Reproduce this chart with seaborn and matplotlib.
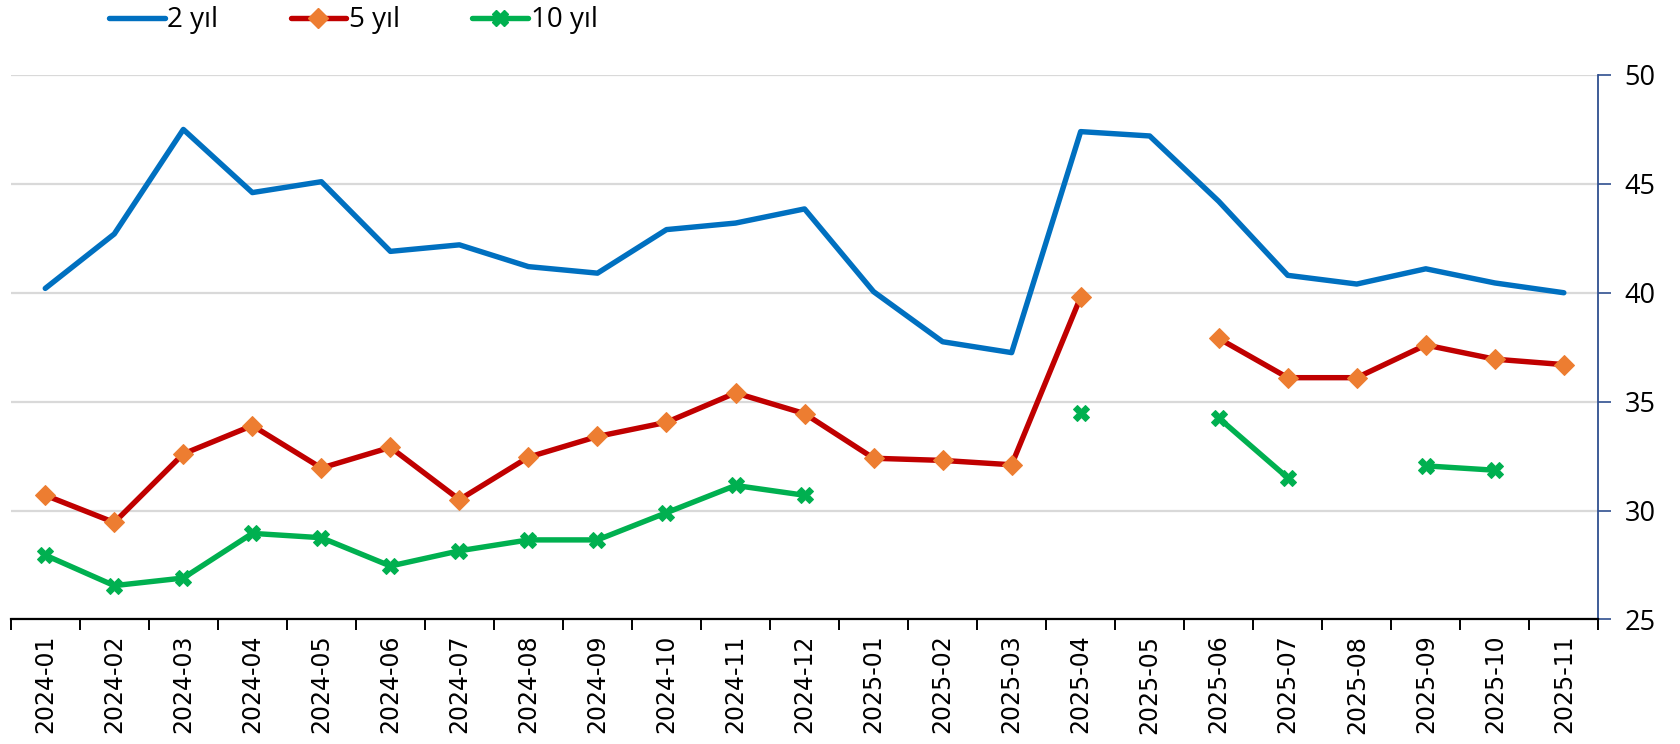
import numpy as np
import pandas as pd
import matplotlib
matplotlib.use("Agg")
import matplotlib.pyplot as plt
import seaborn as sns

months = ["2024-01", "2024-02", "2024-03", "2024-04", "2024-05", "2024-06",
          "2024-07", "2024-08", "2024-09", "2024-10", "2024-11", "2024-12",
          "2025-01", "2025-02", "2025-03", "2025-04", "2025-05", "2025-06",
          "2025-07", "2025-08", "2025-09", "2025-10", "2025-11"]

y2 = [40.2, 42.7, 47.5, 44.6, 45.1, 41.9, 42.2, 41.2, 40.9, 42.9, 43.2, 43.85,
      40.05, 37.75, 37.25, 47.4, 47.2, 44.2, 40.8, 40.4, 41.1, 40.45, 40.0]
y5 = [30.7, 29.45, 32.6, 33.9, 31.95, 32.9, 30.5, 32.45, 33.4, 34.05, 35.4, 34.45,
      32.4, 32.3, 32.1, 39.8, np.nan, 37.9, 36.1, 36.1, 37.6, 36.95, 36.7]
y10 = [27.95, 26.55, 26.9, 28.95, 28.75, 27.45, 28.15, 28.65, 28.65, 29.9, 31.15, 30.7,
       np.nan, np.nan, np.nan, 34.5, np.nan, 34.25, 31.5, np.nan, 32.05, 31.85, np.nan]

series_names = ["2 yıl", "5 yıl", "10 yıl"]
yticks = [25, 30, 35, 40, 45, 50]


def segments(values):
    """Long-form frame with a segment id so gaps break the line."""
    x = np.arange(len(values)) + 0.5
    v = pd.Series(values, dtype=float)
    seg = v.isna().cumsum()
    df = pd.DataFrame({"x": x, "y": v, "seg": seg})
    return df.dropna()


sns.set_theme(style="white")
# date labels use DejaVu Sans; value labels and legend use Open Sans
plt.rcParams["font.family"] = ["DejaVu Sans"]
VALUE_FONT = "Open Sans"

fig = plt.figure(figsize=(16.8, 7.44), dpi=100)
ax = fig.add_axes([0.0064, 0.1675, 0.945, 0.7317])

styles = [
    dict(color="#0070C0", marker=None),
    dict(color="#C00000", marker="D", markerfacecolor="#ED7D31",
         markeredgecolor="#ED7D31", markersize=10),
    dict(color="#00B050", marker="X", markerfacecolor="#00B050",
         markeredgecolor="#00B050", markersize=12),
]

for vals, name, st in zip([y2, y5, y10], series_names, styles):
    df = segments(vals)
    sns.lineplot(data=df, x="x", y="y", units="seg", estimator=None, ax=ax,
                 linewidth=3.9, legend=False, sort=False, **st)
    # proxy for legend
    ax.plot([], [], label=name, linewidth=3.9, **st)

ax.set_xlim(0, len(months))
ax.set_ylim(25, 50)

# category boundaries as tick marks, labels centred on categories
ax.set_xticks(np.arange(len(months) + 1))
ax.set_xticklabels([])
ax.set_xticks(np.arange(len(months)) + 0.5, minor=True)
ax.set_xticklabels(months, minor=True, rotation=90)
ax.tick_params(axis="x", which="major", length=8, width=1.4, color="black",
               direction="out", bottom=True)
ax.tick_params(axis="x", which="minor", length=0, pad=11, bottom=True,
               labelsize=17, labelcolor="black")

ax.yaxis.tick_right()
ax.set_yticks(yticks)
ax.set_yticklabels([str(t) for t in yticks])
ax.tick_params(axis="y", which="major", right=True, length=9, width=1.2,
               color="#2F4F8F", direction="out", pad=10, labelsize=19.5,
               labelcolor="black", labelfontfamily=VALUE_FONT)
ax.set_xlabel("")
ax.set_ylabel("")

ax.grid(axis="y", color="#D9D9D9", linewidth=1.6)
ax.grid(axis="x", visible=False)
ax.set_axisbelow(True)

for side in ["left", "top"]:
    ax.spines[side].set_visible(False)
ax.spines["bottom"].set_color("black")
ax.spines["bottom"].set_linewidth(1.6)
ax.spines["right"].set_color("#2F4F8F")
ax.spines["right"].set_linewidth(1.3)

handles, labels = ax.get_legend_handles_labels()
fig.legend(handles, labels, loc="upper left", bbox_to_anchor=(0.050, 1.025),
           ncol=3, frameon=False, prop={"family": VALUE_FONT, "size": 20},
           handlelength=2.0, handletextpad=0.1, columnspacing=2.6,
           labelcolor="black")

fig.savefig("out.png", dpi=100)
